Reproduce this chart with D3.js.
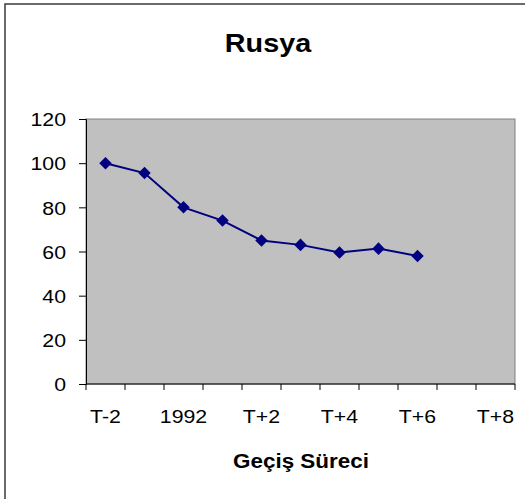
<!DOCTYPE html>
<html>
<head>
<meta charset="utf-8">
<script src="https://cdn.jsdelivr.net/npm/d3@7"></script>
<style>
  body { margin: 0; background: #fff; }
  svg { display: block; font-family: "Liberation Sans", Arial, sans-serif; }
</style>
</head>
<body>
<svg id="chart" width="525" height="499"></svg>
<script>
// categories along the transition period
const categories = ["T-2", "T-1", "1992", "T+1", "T+2", "T+3", "T+4", "T+5", "T+6", "T+7", "T+8"];
const shownLabels = ["T-2", "1992", "T+2", "T+4", "T+6", "T+8"];
const values = [100, 95.5, 80, 74, 65, 63, 59.5, 61.3, 58];
const yTicks = [0, 20, 40, 60, 80, 100, 120];

const svg = d3.select("#chart");
const plot = { left: 86, right: 515, top: 119, bottom: 384 };
const stretch = 1.15; // the source font is a bit wider than Arial

// outer chart border (right/bottom edges fall off the picture)
svg.append("rect")
  .attr("x", 5).attr("y", 4)
  .attr("width", 530).attr("height", 510)
  .attr("fill", "#fff").attr("stroke", "#3a3a3a").attr("stroke-width", 1.5);

const x = d3.scaleBand().domain(categories).range([plot.left, plot.right]);
const y = d3.scaleLinear().domain([0, 120]).range([plot.bottom, plot.top]);

// plot area
svg.append("rect")
  .attr("x", plot.left).attr("y", plot.top)
  .attr("width", plot.right - plot.left).attr("height", plot.bottom - plot.top)
  .attr("fill", "#c0c0c0").attr("stroke", "#808080").attr("stroke-width", 1);

// y axis
const yAxis = svg.append("g")
  .attr("transform", `translate(${plot.left},0)`)
  .call(d3.axisLeft(y).tickValues(yTicks).tickSize(7).tickPadding(13));
yAxis.select(".domain").attr("stroke", "#000");
yAxis.selectAll(".tick line").attr("stroke", "#000");
yAxis.selectAll("text").attr("font-size", 18.5).attr("fill", "#000")
  .attr("font-family", "Liberation Sans, Arial, sans-serif")
  .attr("dy", "0.36em");

// x axis: ticks at category boundaries, labels every other category
const xAxisG = svg.append("g").attr("transform", `translate(0,${plot.bottom})`);
xAxisG.append("line")
  .attr("x1", plot.left).attr("x2", plot.right)
  .attr("stroke", "#000");
const bounds = categories.map(c => x(c)).concat([plot.right]);
xAxisG.selectAll("line.tk").data(bounds).enter().append("line")
  .attr("class", "tk")
  .attr("x1", d => d).attr("x2", d => d)
  .attr("y1", 0).attr("y2", 6)
  .attr("stroke", "#000");
xAxisG.selectAll("text").data(shownLabels).enter().append("text")
  .attr("x", d => x(d) + x.bandwidth() / 2)
  .attr("y", 39)
  .attr("text-anchor", "middle")
  .attr("font-size", 18.5)
  .text(d => d);

// series line + diamond markers
const pts = values.map((v, i) => [x(categories[i]) + x.bandwidth() / 2, y(v)]);
svg.append("path")
  .attr("d", d3.line()(pts))
  .attr("fill", "none").attr("stroke", "#000080").attr("stroke-width", 2);
svg.selectAll("path.mk").data(pts).enter().append("path")
  .attr("class", "mk")
  .attr("transform", d => `translate(${d[0]},${d[1]})`)
  .attr("d", d3.symbol().type(d3.symbolDiamond2).size(100))
  .attr("fill", "#000080");

// titles
svg.append("text")
  .attr("x", 268).attr("y", 52)
  .attr("text-anchor", "middle")
  .attr("font-size", 25).attr("font-weight", "bold")
  .text("Rusya");
svg.append("text")
  .attr("x", 301).attr("y", 468)
  .attr("text-anchor", "middle")
  .attr("font-size", 19.5).attr("font-weight", "bold")
  .text("Geçiş Süreci");

// widen all text slightly to match the source typeface
svg.selectAll("text").each(function () {
  const w = this.getComputedTextLength();
  d3.select(this).attr("textLength", w * stretch).attr("lengthAdjust", "spacingAndGlyphs");
});
</script>
</body>
</html>
